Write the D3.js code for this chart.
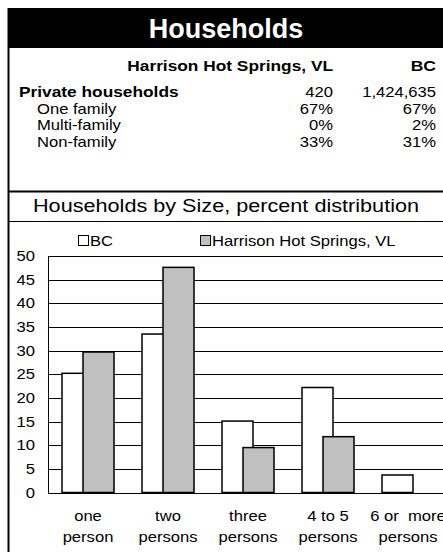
<!DOCTYPE html>
<html>
<head>
<meta charset="utf-8" />
<style>
  body { margin: 0; background: #fff; }
  svg text { font-family: "Liberation Sans", Arial, sans-serif; fill: #000; white-space: pre; }
  .grid line { stroke: #000; stroke-width: 1px; }
  .bar { stroke: #000; stroke-width: 1.5px; }
</style>
</head>
<body>
<script src="https://cdn.jsdelivr.net/npm/d3@7"></script>
<script>
var width = 443, height = 552;

// summary table
var placeName = "Harrison Hot Springs, VL";
var tableRows = ["Private households", "One family", "Multi-family", "Non-family"];
var placeValues = ["420", "67%", "0%", "33%"];
var bcValues = ["1,424,635", "67%", "2%", "31%"];

// household size chart
var categories = [["one", "person"], ["two", "persons"], ["three", "persons"], ["4 to 5", "persons"], ["6 or  more", "persons"]];
var seriesNames = ["BC", "Harrison Hot Springs, VL"];
var bcPct = [25.2, 33.5, 15.1, 22.2, 3.7];
var placePct = [29.7, 47.6, 9.5, 11.8, 0];
var yTicks = [0, 5, 10, 15, 20, 25, 30, 35, 40, 45, 50];
var fills = ["#ffffff", "#c0c0c0"];

var sx = 1.17; // text in the original is a bit wider than it is tall

var svg = d3.select("body").append("svg")
    .attr("width", width)
    .attr("height", height);

function label(x, y, str, size, anchor, bold, color) {
  return svg.append("text")
      .attr("transform", "translate(" + x + "," + y + ") scale(" + sx + ",1)")
      .attr("text-anchor", anchor || "start")
      .style("font-size", size + "px")
      .style("font-weight", bold ? "bold" : "normal")
      .style("fill", color || "#000")
      .text(str);
}

// title band
svg.append("rect").attr("x", 8).attr("y", 8).attr("width", width - 8).attr("height", 40).attr("fill", "#000");
svg.append("text").attr("x", 226).attr("y", 38).attr("text-anchor", "middle")
    .style("fill", "#fff").style("font-size", "27px").style("font-weight", "bold").text("Households");

// left border
svg.append("line").attr("x1", 8.5).attr("x2", 8.5).attr("y1", 8).attr("y2", height)
    .attr("stroke", "#000").attr("stroke-width", 2);

// table
var fs = 14.2;
var colPlace = 333, colBC = 436;
label(colPlace, 71, placeName, 14.8, "end", true);
label(colBC, 71, "BC", 15, "end", true);

var rowY = d3.scalePoint().domain(tableRows).range([97, 147]);
tableRows.forEach(function(r, i) {
  var y = rowY(r);
  label(i == 0 ? 19 : 37, y, r, i == 0 ? 14.8 : fs, "start", i == 0);
  label(colPlace, y, placeValues[i], fs, "end");
  label(colBC, y, bcValues[i], fs, "end");
});

// section lines + subtitle
svg.append("line").attr("x1", 8).attr("x2", width).attr("y1", 191.5).attr("y2", 191.5).attr("stroke", "#000").attr("stroke-width", 2);
svg.append("line").attr("x1", 8).attr("x2", width).attr("y1", 221.5).attr("y2", 221.5).attr("stroke", "#000").attr("stroke-width", 1);
label(226, 212, "Households by Size, percent distribution", 18.5, "middle");

// chart
var plotLeft = 48, plotTop = 256, plotBottom = 492.5, step = 80;
var x = d3.scaleBand().domain(d3.range(categories.length))
    .range([plotLeft, plotLeft + step * categories.length]).paddingInner(0).paddingOuter(0);
var y = d3.scaleLinear().domain([0, 50]).range([plotBottom, plotTop]);

var grid = svg.append("g").attr("class", "grid");
grid.selectAll("line").data(yTicks).enter().append("line")
    .attr("x1", plotLeft).attr("x2", width)
    .attr("y1", function(d) { return Math.round(y(d)) + 0.5; })
    .attr("y2", function(d) { return Math.round(y(d)) + 0.5; });

var yAxis = svg.append("g").attr("transform", "translate(" + plotLeft + ",0)")
    .call(d3.axisLeft(y).tickValues(yTicks).tickSize(0).tickPadding(13));
yAxis.select(".domain").attr("stroke", "#000");
yAxis.selectAll("text")
    .style("font-size", "14.2px")
    .style("font-family", "Liberation Sans, Arial, sans-serif")
    .attr("x", null)
    .attr("transform", "translate(-13,0) scale(" + sx + ",1)");

var barW = 31, overlap = 10;
var groupW = barW * 2 - overlap;
var series = [bcPct, placePct];
series.forEach(function(vals, s) {
  svg.append("g").selectAll("rect").data(vals).enter().append("rect")
      .attr("class", "bar")
      .attr("x", function(d, i) { return x(i) + x.bandwidth() / 2 - groupW / 2 + s * (barW - overlap); })
      .attr("y", function(d) { return y(d); })
      .attr("width", barW)
      .attr("height", function(d) { return y(0) - y(d); })
      .attr("fill", fills[s]);
});

// category labels
categories.forEach(function(c, i) {
  var cx = x(i) + x.bandwidth() / 2;
  c.forEach(function(line, j) {
    label(cx, 521 + j * 21, line, 14.2, "middle");
  });
});

// legend
var legendX = [78, 200];
seriesNames.forEach(function(n, i) {
  svg.append("rect").attr("x", legendX[i] + 0.5).attr("y", 235.5).attr("width", 10).attr("height", 10)
      .attr("fill", fills[i]).attr("stroke", "#000").attr("stroke-width", 1);
  label(legendX[i] + 12, 246, n, 14.2, "start");
});
</script>
</body>
</html>
